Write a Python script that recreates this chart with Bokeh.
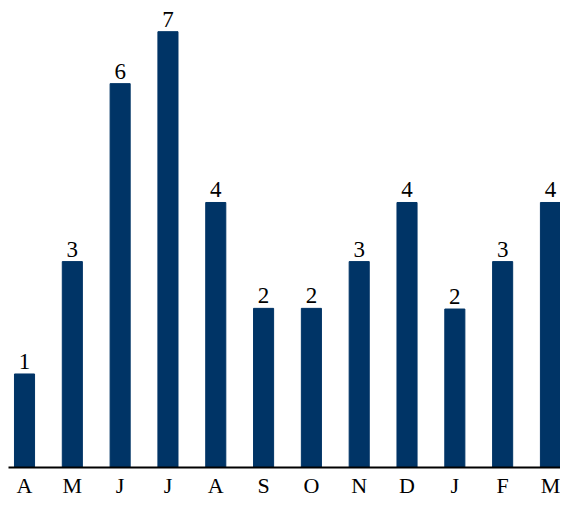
from bokeh.plotting import figure
from bokeh.models import ColumnDataSource, Range1d, FixedTicker, LabelSet
from bokeh.core.properties import value
from bokeh.embed import file_html
from bokeh.resources import INLINE

months = ["A", "M", "J", "J", "A", "S", "O", "N", "D", "J", "F", "M"]
values = [1.44, 3.17, 5.91, 6.71, 4.08, 2.45, 2.45, 3.17, 4.08, 2.44, 3.17, 4.08]

xs = list(range(len(months)))
labels = [str(int(round(v))) for v in values]
src = ColumnDataSource(dict(x=xs, top=values, label=labels))

FONT = "Liberation Serif"

p = figure(width=560, height=500, output_backend="svg", toolbar_location=None,
           x_range=Range1d(-0.335, 11.21), y_range=Range1d(0, 7.19),
           min_border_left=8, min_border_right=0, min_border_top=0, min_border_bottom=0)
p.outline_line_color = None
p.grid.visible = False
p.yaxis.visible = False
p.background_fill_color = "white"

p.vbar(x="x", top="top", width=0.42, bottom=0, source=src, color="#003466")

lab = LabelSet(x="x", y="top", text="label", source=src, text_align="center",
               text_baseline="bottom", y_offset=5, text_font=value(FONT),
               text_font_size="23px", text_color="black")
p.add_layout(lab)

ax = p.xaxis[0]
ax.ticker = FixedTicker(ticks=xs)
ax.major_label_overrides = {i: m for i, m in enumerate(months)}
ax.major_tick_line_color = None
ax.major_tick_out = 0
ax.major_tick_in = 0
ax.minor_tick_line_color = None
ax.minor_tick_out = 0
ax.axis_line_width = 2
ax.axis_line_color = "black"
ax.major_label_text_font = FONT
ax.major_label_text_font_size = "22px"
ax.major_label_text_color = "black"
ax.major_label_standoff = 5

open("out.html", "w").write(file_html(p, INLINE))
